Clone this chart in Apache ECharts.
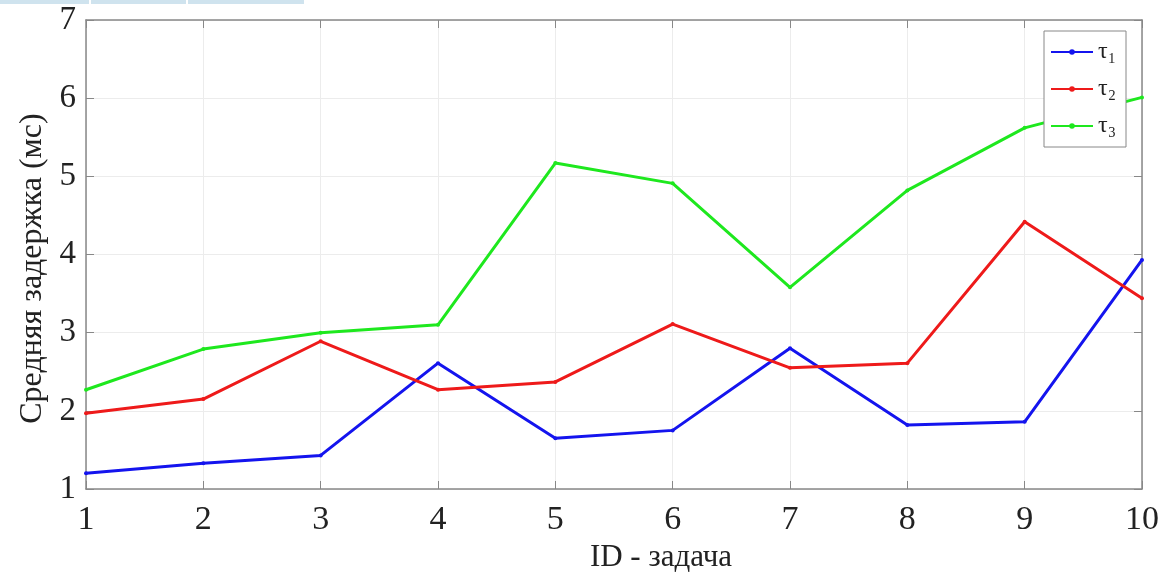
<!DOCTYPE html>
<html>
<head>
<meta charset="UTF-8">
<title>Средняя задержка</title>
<script src="https://cdn.jsdelivr.net/npm/echarts@6/dist/echarts.min.js"></script>
<style>
  html, body { margin: 0; padding: 0; background: #fff; }
  #container { width: 1170px; height: 573px; }
</style>
</head>
<body>
<div id="container"></div>
<script type="text/javascript">
// данные с графика
var taskIds = ['1', '2', '3', '4', '5', '6', '7', '8', '9', '10'];
var tau1 = [1.20, 1.33, 1.43, 2.61, 1.65, 1.75, 2.80, 1.82, 1.86, 3.93];
var tau2 = [1.97, 2.15, 2.89, 2.27, 2.37, 3.11, 2.55, 2.61, 4.42, 3.44];
var tau3 = [2.27, 2.79, 3.00, 3.10, 5.17, 4.91, 3.58, 4.82, 5.62, 6.01];
var seriesNames = ['τ₁', 'τ₂', 'τ₃'];
var seriesColors = ['#1414ee', '#ee1a1a', '#1ee81e'];

var serif = '"Liberation Serif", "DejaVu Serif", serif';

var myChart = echarts.init(document.getElementById('container'));

function makeSeries(name, data, color) {
    return {
        name: name,
        type: 'line',
        data: data,
        symbol: 'circle',
        symbolSize: 4,
        lineStyle: { width: 3, color: color },
        itemStyle: { color: color },
        emphasis: { disabled: true }
    };
}

var option = {
    animation: false,
    backgroundColor: '#fff',
    grid: { left: 86, right: 28, top: 20, bottom: 84, outerBoundsMode: 'none', containLabel: false },
    legend: {
        orient: 'vertical',
        left: 1044,
        top: 31,
        padding: [9, 10, 9, 6],
        itemWidth: 42,
        itemHeight: 7,
        itemGap: 13,
        backgroundColor: '#fff',
        borderColor: '#888',
        borderWidth: 1,
        borderRadius: 0,
        data: seriesNames,
        textStyle: { fontFamily: serif, fontSize: 24, color: '#222' }
    },
    xAxis: [{
        type: 'category',
        data: taskIds,
        boundaryGap: false,
        name: 'ID - задача',
        nameLocation: 'middle',
        nameGap: 51,
        nameTextStyle: { fontFamily: serif, fontSize: 31, color: '#222', padding: [0, 0, 0, 94] },
        axisLine: { lineStyle: { color: '#888', width: 1.5 } },
        axisTick: { inside: true, length: 8, lineStyle: { color: '#888' } },
        axisLabel: { fontFamily: serif, fontSize: 34, color: '#222', margin: 14 },
        splitLine: { show: true, lineStyle: { color: '#ececec', width: 1 } }
    }, {
        type: 'category',
        data: taskIds,
        boundaryGap: false,
        position: 'top',
        axisLine: { lineStyle: { color: '#888', width: 1.5 } },
        axisTick: { inside: true, length: 8, lineStyle: { color: '#888' } },
        axisLabel: { show: false },
        splitLine: { show: false }
    }],
    yAxis: [{
        type: 'value',
        min: 1,
        max: 7,
        interval: 1,
        name: 'Средняя задержка (мс)',
        nameLocation: 'middle',
        nameGap: 36,
        nameTextStyle: { fontFamily: serif, fontSize: 32, color: '#222', padding: [0, 28, 0, 0] },
        axisLine: { show: true, lineStyle: { color: '#888', width: 1.5 } },
        axisTick: { show: true, inside: true, length: 8, lineStyle: { color: '#888' } },
        axisLabel: { fontFamily: serif, fontSize: 33, color: '#222', margin: 10 },
        splitLine: { show: true, lineStyle: { color: '#ececec', width: 1 } }
    }, {
        type: 'value',
        min: 1,
        max: 7,
        interval: 1,
        position: 'right',
        axisLine: { show: true, lineStyle: { color: '#888', width: 1.5 } },
        axisTick: { show: true, inside: true, length: 8, lineStyle: { color: '#888' } },
        axisLabel: { show: false },
        splitLine: { show: false }
    }],
    graphic: [
        { type: 'rect', shape: { x: 0, y: 0, width: 89, height: 4 }, style: { fill: '#cfe3ee' } },
        { type: 'rect', shape: { x: 91, y: 0, width: 95, height: 4 }, style: { fill: '#cfe3ee' } },
        { type: 'rect', shape: { x: 188, y: 0, width: 116, height: 4 }, style: { fill: '#cfe3ee' } }
    ],
    series: [
        makeSeries(seriesNames[0], tau1, seriesColors[0]),
        makeSeries(seriesNames[1], tau2, seriesColors[1]),
        makeSeries(seriesNames[2], tau3, seriesColors[2])
    ]
};

myChart.setOption(option);
</script>
</body>
</html>
